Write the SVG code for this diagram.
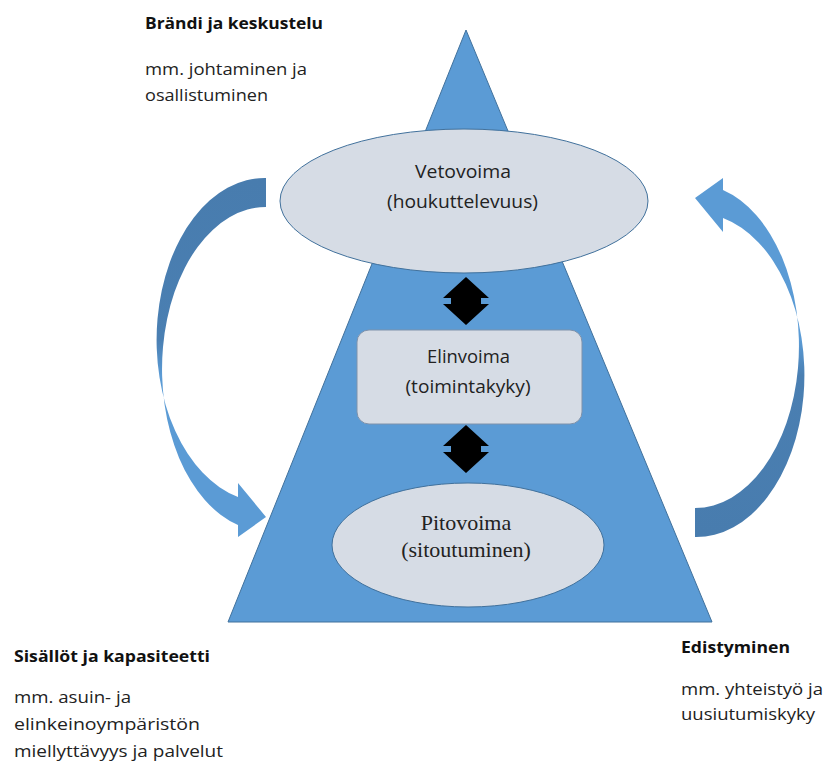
<svg xmlns="http://www.w3.org/2000/svg" width="826" height="764" viewBox="0 0 826 764">
<defs>
<style>
.t{font-family:"Open Sans","Noto Sans",sans-serif;fill:#222;}
.c{font-size:16px;}
.b{font-size:16px;font-weight:bold;fill:#111;}
.n{font-size:19px;text-anchor:middle;}
.s{font-family:"Liberation Serif","Times New Roman",serif;font-size:22px;text-anchor:middle;fill:#222;}
.node{fill:#d6dce5;stroke:#41719c;stroke-width:1;}
</style>
<linearGradient id="g" x1="0" y1="0" x2="0" y2="1">
<stop offset="0" stop-color="#487cae"/>
<stop offset="0.45" stop-color="#4a7fb2"/>
<stop offset="0.55" stop-color="#5b9bd5"/>
<stop offset="1" stop-color="#5b9bd5"/>
</linearGradient>
<path id="carrow" d="M266,178 A108,162 0 0 0 238,497 L238,483 L266,517 L238,537 L238,525 A104,162 0 0 1 266,207 Z"/>
</defs>
<rect width="826" height="764" fill="#fff"/>
<g id="pyramid">
<polygon points="466,30 712,622 228,622" fill="#5b9bd5" stroke="#41719c" stroke-width="1"/>
</g>
<g id="connectors">
<use href="#carrow" fill="url(#g)"/>
<use href="#carrow" fill="url(#g)" transform="rotate(180 480.5 357.5)"/>
<polygon points="466,277 489,298 481,298 481,304 489,304 466,325 443,304 451,304 451,298 443,298" fill="#000"/>
<polygon points="466,425 489,446 481,446 481,452 489,452 466,473 443,452 451,452 451,446 443,446" fill="#000"/>
</g>
<g id="vetovoima">
<ellipse class="node" cx="464" cy="201" rx="184" ry="72"/>
<text class="t n" x="463" y="178" textLength="96" lengthAdjust="spacingAndGlyphs">Vetovoima</text>
<text class="t n" x="462.5" y="208" textLength="151" lengthAdjust="spacingAndGlyphs">(houkuttelevuus)</text>
</g>
<g id="elinvoima">
<rect x="357" y="330" width="225" height="94" rx="12" ry="12" fill="#d6dce5" stroke="#7f92ab" stroke-width="1"/>
<text class="t n" x="468.5" y="363" textLength="83" lengthAdjust="spacingAndGlyphs">Elinvoima</text>
<text class="t n" x="468" y="393" textLength="125" lengthAdjust="spacingAndGlyphs">(toimintakyky)</text>
</g>
<g id="pitovoima">
<ellipse class="node" cx="468" cy="545" rx="136" ry="62"/>
<text class="s" x="466" y="530">Pitovoima</text>
<text class="s" x="466" y="557">(sitoutuminen)</text>
</g>
<g id="label-brandi">
<text class="t b" x="145" y="29" textLength="178" lengthAdjust="spacingAndGlyphs">Brändi ja keskustelu</text>
<text class="t c" x="145" y="75" textLength="162" lengthAdjust="spacingAndGlyphs">mm. johtaminen ja</text>
<text class="t c" x="145" y="101" textLength="123" lengthAdjust="spacingAndGlyphs">osallistuminen</text>
</g>
<g id="label-sisallot">
<text class="t b" x="14" y="662" textLength="196" lengthAdjust="spacingAndGlyphs">Sisällöt ja kapasiteetti</text>
<text class="t c" x="14" y="703" textLength="117" lengthAdjust="spacingAndGlyphs">mm. asuin- ja</text>
<text class="t c" x="14" y="730" textLength="186" lengthAdjust="spacingAndGlyphs">elinkeinoympäristön</text>
<text class="t c" x="14" y="757" textLength="209" lengthAdjust="spacingAndGlyphs">miellyttävyys ja palvelut</text>
</g>
<g id="label-edistyminen">
<text class="t b" x="681" y="653" textLength="109" lengthAdjust="spacingAndGlyphs">Edistyminen</text>
<text class="t c" x="681" y="695" textLength="142" lengthAdjust="spacingAndGlyphs">mm. yhteistyö ja</text>
<text class="t c" x="681" y="720" textLength="134" lengthAdjust="spacingAndGlyphs">uusiutumiskyky</text>
</g>
</svg>
